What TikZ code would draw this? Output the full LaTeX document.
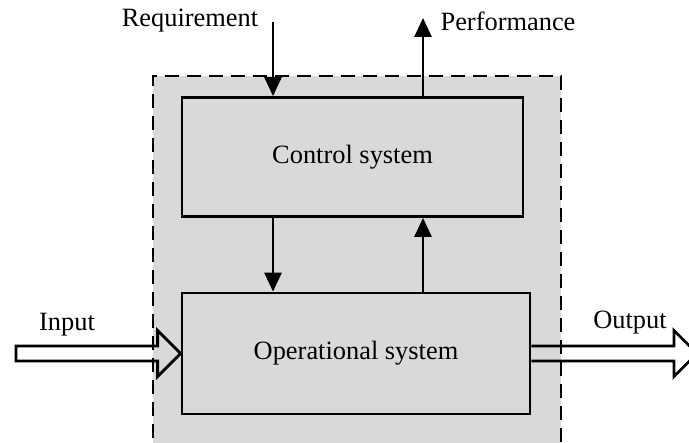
\documentclass[tikz,border=0pt]{standalone}
\usepackage{fontspec}
\setmainfont{Liberation Serif}
\usepackage{tikz}
\usetikzlibrary{arrows.meta,positioning,calc}
\definecolor{boxgray}{HTML}{D9D9D9}

\begin{document}
\begin{tikzpicture}[
  x=0.5pt,y=-0.5pt,
  every node/.style={font=\fontsize{13.2}{15}\selectfont},
  sysbox/.style={rectangle,draw=black,fill=boxgray,line width=1.4pt,inner sep=0pt,align=center},
  arrow/.style={-{Triangle[length=9.5pt,width=8.5pt]},line width=1.4pt},
  hollow/.style={draw=black,line width=1.4pt,line join=miter},
  frame/.style={draw=black,line width=1.1pt,dash pattern=on 7pt off 4pt}
]
\useasboundingbox (0,0) rectangle (689,443);

% enclosing system
\fill[boxgray] (153,76) rectangle (561,460);

\node[sysbox,minimum width=170.5pt,minimum height=59.5pt] (ctrl) at (352.5,157) {Control system};
\node[sysbox,minimum width=174pt,minimum height=60.5pt] (oper) at (356,353.5) {Operational system};

\node (req) at (190,21) {Requirement};
\node (perf) at (508,21) {Performance};
\node (in) at (67,325) {Input};
\node (out) at (630,323) {Output};

\coordinate (reqTop) at (273,22);
\coordinate (perfTop) at (423,18);
\coordinate (inTail) at (16,353.5);
\coordinate (outTip) at (697,353.5);

\draw[arrow] (reqTop) -- (reqTop |- ctrl.north);
\draw[arrow] (perfTop |- ctrl.north) -- (perfTop);
\draw[arrow] (ctrl.south -| reqTop) -- (oper.north -| reqTop);
\draw[arrow] (oper.north -| perfTop) -- (ctrl.south -| perfTop);

% hollow arrows
\draw[hollow] ($(inTail)+(0,-7.5)$) -- ($(oper.west)+(-23,-7.5)$) -- ($(oper.west)+(-23,-23)$)
  -- (oper.west) -- ($(oper.west)+(-23,23)$) -- ($(oper.west)+(-23,7.5)$) -- ($(inTail)+(0,7.5)$) -- cycle;
\draw[hollow] ($(oper.east)+(0,-7.5)$) -- ($(outTip)+(-23,-7.5)$) -- ($(outTip)+(-23,-23)$)
  -- (outTip) -- ($(outTip)+(-23,23)$) -- ($(outTip)+(-23,7.5)$) -- ($(oper.east)+(0,7.5)$);

\draw[frame] (153,460) -- (153,76) -- (561,76) -- (561,460);
\end{tikzpicture}
\end{document}
